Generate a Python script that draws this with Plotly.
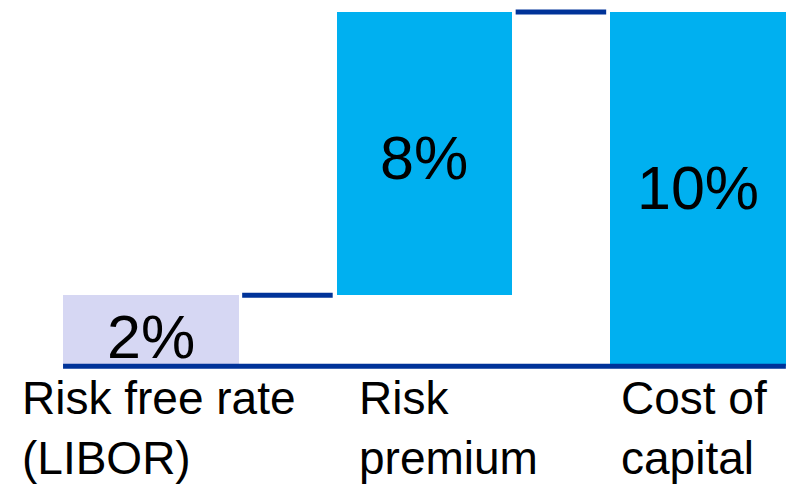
import plotly.graph_objects as go

categories = ["Risk free rate<br>(LIBOR)", "Risk<br>premium", "Cost of<br>capital"]
values = [2, 8, 10]
bases = [0, 2, 0]
labels = ["2%", "8%", "10%"]
bar_colors = ["#D6D7F3", "#00B0F0", "#00B0F0"]

FONT = "Arial, Liberation Sans, sans-serif"
DARK = "#003399"
x = list(range(len(categories)))
BW = 0.643
half = BW / 2

fig = go.Figure()
fig.add_trace(go.Bar(
    x=x, y=values, base=bases, width=BW,
    marker=dict(color=bar_colors, line=dict(width=0)),
    hoverinfo="skip", showlegend=False,
))

shapes = []
# baseline
shapes.append(dict(type="line", xref="x", yref="y", x0=-half, x1=x[-1] + half,
                   y0=0, y1=0, line=dict(color=DARK, width=5)))
# connectors
for i in range(len(x) - 1):
    lvl = bases[i] + values[i]
    shapes.append(dict(type="line", xref="x", yref="y",
                       x0=x[i] + half + 0.012, x1=x[i + 1] - half - 0.014,
                       y0=lvl, y1=lvl, line=dict(color=DARK, width=5)))

annotations = []
val_shift = [-6, -4, 1]
for i in x:
    annotations.append(dict(x=x[i], y=bases[i] + values[i] / 2, xref="x", yref="y",
                            text=labels[i], showarrow=False, yshift=val_shift[i],
                            font=dict(family=FONT, size=61, color="#000000")))
cat_offsets = [-0.478, -0.245, -0.29]
for i in x:
    annotations.append(dict(x=x[i] + cat_offsets[i], y=0, xref="x", yref="y",
                            xanchor="left", yanchor="top", yshift=-4,
                            text=categories[i], showarrow=False, align="left",
                            font=dict(family=FONT, size=46, color="#000000")))

fig.update_layout(
    width=786, height=485,
    margin=dict(l=0, r=0, t=0, b=116),
    paper_bgcolor="white", plot_bgcolor="white",
    xaxis=dict(range=[-0.552, 2.322], visible=False, fixedrange=True),
    yaxis=dict(range=[-0.08, 10.34], visible=False, fixedrange=True),
    shapes=shapes, annotations=annotations,
    bargap=0,
)

fig.write_html("out.html", config={"displayModeBar": False})
